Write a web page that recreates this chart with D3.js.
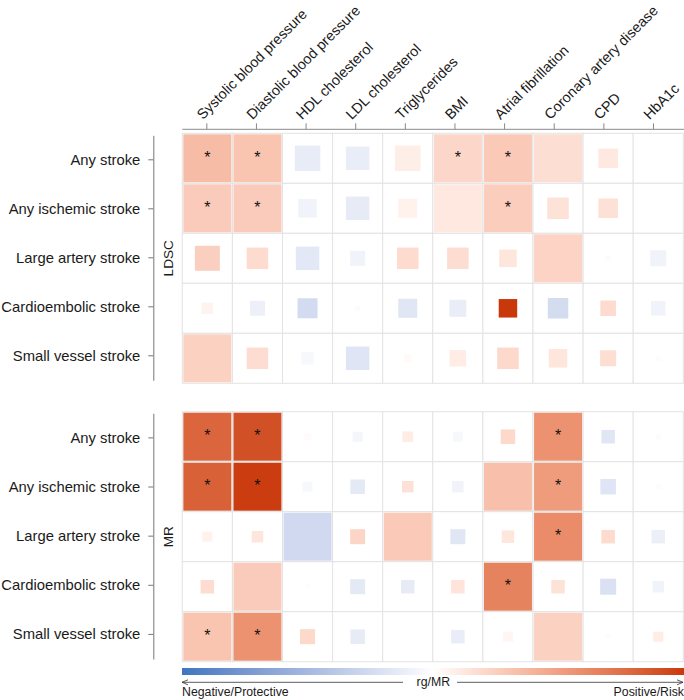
<!DOCTYPE html>
<html>
<head>
<meta charset="utf-8">
<script src="https://cdn.jsdelivr.net/npm/d3@7"></script>
<style>
  body { margin: 0; background: #fff; }
  svg { display: block; font-family: "Liberation Sans", Arial, sans-serif; }
</style>
</head>
<body>
<svg id="chart" width="684" height="700"></svg>
<script>
// ---- data ----
const features = ["Systolic blood pressure", "Diastolic blood pressure", "HDL cholesterol", "LDL cholesterol",
  "Triglycerides", "BMI", "Atrial fibrillation", "Coronary artery disease", "CPD", "HbA1c"];
const outcomes = ["Any stroke", "Any ischemic stroke", "Large artery stroke", "Cardioembolic stroke", "Small vessel stroke"];
const panelNames = ["LDSC", "MR"];

// colour value (rg / MR estimate, scaled -1..1)
const ldscValues = [
  [0.35, 0.31, -0.13, -0.12, 0.09, 0.21, 0.28, 0.17, 0.12, 0],
  [0.27, 0.27, -0.08, -0.14, 0.07, 0.12, 0.26, 0.15, 0.16, 0],
  [0.25, 0.19, -0.16, -0.08, 0.19, 0.18, 0.13, 0.23, 0.03, -0.08],
  [0.06, -0.10, -0.25, -0.03, -0.17, -0.12, 1.00, -0.24, 0.19, -0.08],
  [0.24, 0.18, -0.05, -0.18, 0.03, 0.10, 0.20, 0.13, 0.17, 0.02]
];
// square size (fraction of cell)
const ldscSizes = [
  [0.96, 0.96, 0.51, 0.47, 0.51, 0.96, 0.96, 0.96, 0.39, 0],
  [0.96, 0.96, 0.37, 0.47, 0.38, 0.96, 0.96, 0.43, 0.39, 0],
  [0.50, 0.43, 0.47, 0.30, 0.43, 0.43, 0.35, 0.96, 0.10, 0.32],
  [0.23, 0.30, 0.40, 0.10, 0.38, 0.34, 0.37, 0.41, 0.31, 0.29],
  [0.96, 0.43, 0.25, 0.47, 0.15, 0.33, 0.43, 0.37, 0.32, 0.10]
];
const ldscSig = [
  [1, 1, 0, 0, 0, 1, 1, 0, 0, 0],
  [1, 1, 0, 0, 0, 0, 1, 0, 0, 0],
  [0, 0, 0, 0, 0, 0, 0, 0, 0, 0],
  [0, 0, 0, 0, 0, 0, 0, 0, 0, 0],
  [0, 0, 0, 0, 0, 0, 0, 0, 0, 0]
];

const mrValues = [
  [0.80, 0.90, 0.02, -0.06, 0.10, -0.05, 0.20, 0.57, -0.17, 0.02],
  [0.82, 0.98, -0.05, -0.15, 0.16, -0.08, 0.33, 0.52, -0.18, -0.02],
  [0.07, 0.13, -0.26, 0.22, 0.28, -0.17, 0.13, 0.60, 0.19, -0.11],
  [0.18, 0.27, 0.01, -0.15, -0.14, 0.14, 0.65, 0.15, -0.21, -0.08],
  [0.31, 0.57, 0.20, -0.14, 0, -0.12, 0.05, 0.24, -0.02, 0.10]
];
const mrSizes = [
  [0.96, 0.96, 0.15, 0.20, 0.21, 0.20, 0.29, 0.96, 0.27, 0.10],
  [0.96, 0.96, 0.20, 0.29, 0.23, 0.23, 0.96, 0.96, 0.31, 0.10],
  [0.20, 0.23, 0.96, 0.30, 0.96, 0.30, 0.25, 0.96, 0.27, 0.27],
  [0.27, 0.96, 0.10, 0.30, 0.27, 0.27, 0.96, 0.27, 0.32, 0.23],
  [0.96, 0.96, 0.30, 0.29, 0, 0.27, 0.20, 0.96, 0.10, 0.20]
];
const mrSig = [
  [1, 1, 0, 0, 0, 0, 0, 1, 0, 0],
  [1, 1, 0, 0, 0, 0, 0, 1, 0, 0],
  [0, 0, 0, 0, 0, 0, 0, 1, 0, 0],
  [0, 0, 0, 0, 0, 0, 1, 0, 0, 0],
  [1, 1, 0, 0, 0, 0, 0, 0, 0, 0]
];

const legendTitle = "rg/MR";
const legendLeft = "Negative/Protective";
const legendRight = "Positive/Risk";

// ---- layout ----
const svg = d3.select("#chart");
const gridX0 = 182.3, gridX1 = 683.3;
const x = d3.scaleBand().domain(features).range([gridX0, gridX1]);
const xAxisScale = d3.scaleBand().domain(features).range([182, 678.3]);
const panels = [
  { name: panelNames[0], values: ldscValues, sizes: ldscSizes, sig: ldscSig, y0: 133.3, y1: 383.3, a0: 135.3, a1: 380.3 },
  { name: panelNames[1], values: mrValues, sizes: mrSizes, sig: mrSig, y0: 411.7, y1: 661.7, a0: 413.3, a1: 659 }
];
const color = d3.scaleLinear().domain([-1, 0, 1])
  .range(["#3f76c0", "#ffffff", "#c9380a"]).interpolate(d3.interpolateLab);
const side = d3.scaleLinear().domain([0, 1]).range([0, 50]);

const fs = 14.8;

// top axis
const xAxis = d3.axisTop(xAxisScale).tickSize(6).tickSizeOuter(0);
const gx = svg.append("g").attr("transform", "translate(0,129.3)").call(xAxis);
gx.select(".domain").attr("d", `M${gridX0},0H684`).attr("stroke", "#8a8a8a");
gx.selectAll(".tick line").attr("stroke", "#8a8a8a");
gx.selectAll(".tick text")
  .attr("font-size", 14.4).attr("fill", "#1a1a1a")
  .attr("text-anchor", "start")
  .attr("x", 0).attr("y", 0).attr("dy", null)
  .attr("transform", "translate(-4,-9) rotate(-45)");

panels.forEach(p => {
  const y = d3.scaleBand().domain(outcomes).range([p.y0, p.y1]);
  const yA = d3.scaleBand().domain(outcomes).range([p.a0, p.a1]);
  const g = svg.append("g");

  const cells = [];
  outcomes.forEach((o, i) => features.forEach((f, j) => {
    cells.push({ o, f, v: p.values[i][j], s: p.sizes[i][j], sig: p.sig[i][j] });
  }));

  // grid
  g.selectAll("rect.cell").data(cells).join("rect")
    .attr("class", "cell")
    .attr("x", d => x(d.f)).attr("y", d => y(d.o))
    .attr("width", x.bandwidth()).attr("height", y.bandwidth())
    .attr("fill", "#fff").attr("stroke", "#e3e3e3").attr("stroke-width", 1);

  // squares
  g.selectAll("rect.sq").data(cells.filter(d => d.s > 0)).join("rect")
    .attr("class", "sq")
    .attr("x", d => x(d.f) + x.bandwidth() / 2 - side(d.s) / 2)
    .attr("y", d => y(d.o) + y.bandwidth() / 2 - side(d.s) / 2)
    .attr("width", d => side(d.s)).attr("height", d => side(d.s))
    .attr("fill", d => color(d.v));

  // significance stars
  g.selectAll("text.star").data(cells.filter(d => d.sig)).join("text")
    .attr("class", "star")
    .attr("x", d => x(d.f) + x.bandwidth() / 2)
    .attr("y", d => y(d.o) + y.bandwidth() / 2 + 4.5)
    .attr("text-anchor", "middle").attr("font-size", 16).attr("fill", "#111")
    .text("*");

  // left axis
  const yAxis = d3.axisLeft(yA).tickSize(5).tickSizeOuter(0).tickPadding(8);
  const gy = svg.append("g").attr("transform", "translate(153.3,0)").call(yAxis);
  gy.select(".domain").attr("stroke", "#777");
  gy.selectAll(".tick line").attr("stroke", "#777");
  gy.selectAll(".tick text").attr("font-size", fs).attr("fill", "#1a1a1a");

  svg.append("text")
    .attr("transform", `translate(173,${(p.y0 + p.y1) / 2}) rotate(-90)`)
    .attr("text-anchor", "middle").attr("font-size", 13.6).attr("fill", "#1a1a1a")
    .text(p.name);
});

// colour bar
const defs = svg.append("defs");
const grad = defs.append("linearGradient").attr("id", "cbar");
d3.range(0, 1.0001, 0.05).forEach(t => {
  grad.append("stop").attr("offset", `${t * 100}%`).attr("stop-color", color(t * 2 - 1));
});
svg.append("rect").attr("x", 182).attr("y", 668).attr("width", 502).attr("height", 7)
  .attr("fill", "url(#cbar)");

// arrow line
const arrowY = 682.3;
const lg = svg.append("g").attr("stroke", "#333").attr("stroke-width", 0.8).attr("fill", "none");
lg.append("path").attr("d", `M182,${arrowY}H403`);
lg.append("path").attr("d", `M188,${arrowY - 2.5}L182,${arrowY}L188,${arrowY + 2.5}`);
lg.append("path").attr("d", `M457,${arrowY}H683`);
lg.append("path").attr("d", `M677,${arrowY - 2.5}L683,${arrowY}L677,${arrowY + 2.5}`);

svg.append("text").attr("x", 433.3).attr("y", 686).attr("text-anchor", "middle")
  .attr("font-size", 12.3).attr("fill", "#1a1a1a").text(legendTitle);
svg.append("text").attr("x", 182).attr("y", 696).attr("text-anchor", "start")
  .attr("font-size", 12.3).attr("fill", "#1a1a1a").text(legendLeft);
svg.append("text").attr("x", 684).attr("y", 696).attr("text-anchor", "end")
  .attr("font-size", 12.3).attr("fill", "#1a1a1a").text(legendRight);
</script>
</body>
</html>
